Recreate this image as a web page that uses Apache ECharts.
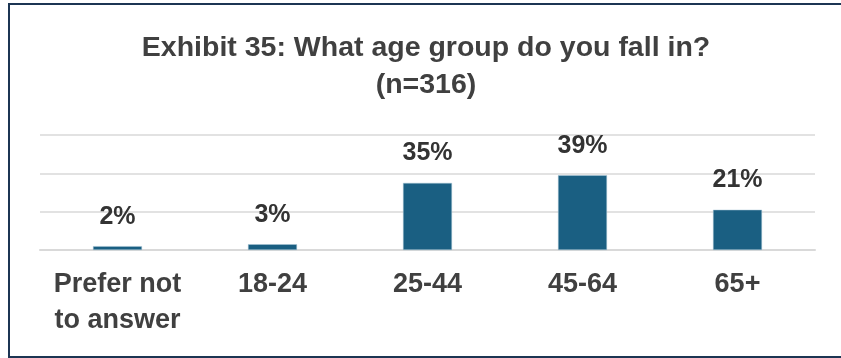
<!DOCTYPE html>
<html>
<head>
<meta charset="utf-8">
<style>
  html, body { margin: 0; padding: 0; background: #ffffff; }
  #chart { width: 841px; height: 358px; }
</style>
<script src="https://cdn.jsdelivr.net/npm/echarts@6/dist/echarts.min.js"></script>
</head>
<body>
<div id="chart"></div>
<script>
// Age groups of respondents, percent of n=316
const categories = ['Prefer not\nto answer', '18-24', '25-44', '45-64', '65+'];
const shares = [2, 3, 35, 39, 21];
const titleLines = ['Exhibit 35: What age group do you fall in?', '(n=316)'];

const chart = echarts.init(document.getElementById('chart'));

chart.setOption({
  animation: false,
  backgroundColor: '#ffffff',
  title: {
    text: titleLines.join('\n'),
    left: 421,
    textAlign: 'center',
    top: 25,
    textStyle: {
      fontFamily: 'Liberation Sans, Arial, sans-serif',
      fontWeight: 'bold',
      fontSize: 28.5,
      lineHeight: 37,
      color: '#404040'
    }
  },
  graphic: [{
    type: 'rect',
    shape: { x: 9, y: 4, width: 900, height: 353 },
    style: { fill: 'none', stroke: '#1c3553', lineWidth: 2 },
    silent: true
  }],
  grid: { left: 40, right: 26, top: 135, bottom: 108 },
  xAxis: {
    type: 'category',
    data: categories,
    axisLine: { show: true, lineStyle: { color: '#d9d9d9', width: 2 } },
    axisTick: { show: false },
    axisLabel: {
      interval: 0,
      margin: 17,
      fontFamily: 'Liberation Sans, Arial, sans-serif',
      fontWeight: 'bold',
      fontSize: 27,
      lineHeight: 36,
      color: '#404040',
      align: 'center'
    }
  },
  yAxis: {
    type: 'value',
    min: 0,
    max: 60,
    interval: 20,
    axisLabel: { show: false },
    axisLine: { show: false },
    axisTick: { show: false },
    splitLine: { lineStyle: { color: '#d9d9d9', width: 1.5 } }
  },
  series: [{
    type: 'bar',
    data: shares,
    barWidth: '31.6%',
    itemStyle: { color: '#1a5f82', borderColor: '#a9c6d6', borderWidth: 0.5 },
    label: {
      show: true,
      position: 'top',
      distance: 17,
      formatter: '{c}%',
      fontFamily: 'Liberation Sans, Arial, sans-serif',
      fontWeight: 'bold',
      fontSize: 25,
      color: '#333333'
    }
  }]
});
</script>
</body>
</html>
